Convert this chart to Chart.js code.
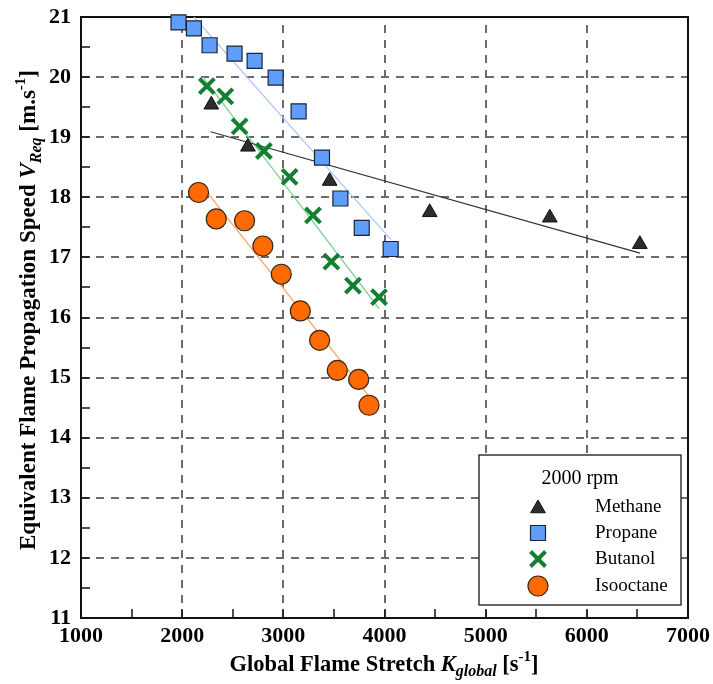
<!DOCTYPE html>
<html>
<head>
<meta charset="utf-8">
<script src="https://cdn.jsdelivr.net/npm/chart.js@4/dist/chart.umd.min.js"></script>
<style>
html,body{margin:0;padding:0;background:#fff;}
canvas{display:block;}
</style>
</head>
<body>
<canvas id="c" width="713" height="684"></canvas>
<script>
// ---- data ----
const xTicks = [1000, 2000, 3000, 4000, 5000, 6000, 7000];
const yTicks = [11, 12, 13, 14, 15, 16, 17, 18, 19, 20, 21];
const seriesNames = ['Methane', 'Propane', 'Butanol', 'Isooctane'];
const legendTitle = '2000 rpm';

const methaneX = [2288, 2650, 3458, 4447, 5634, 6524];
const methaneY = [19.54, 18.84, 18.27, 17.75, 17.66, 17.22];

const propaneX = [1964, 2116, 2271, 2518, 2716, 2924, 3151, 3382, 3564, 3775, 4061];
const propaneY = [20.91, 20.81, 20.53, 20.39, 20.27, 19.99, 19.43, 18.66, 17.98, 17.49, 17.14];

const butanolX = [2244, 2426, 2568, 2808, 3062, 3293, 3475, 3688, 3946];
const butanolY = [19.85, 19.68, 19.18, 18.77, 18.34, 17.70, 16.93, 16.53, 16.34];

const isooctaneX = [2162, 2337, 2617, 2798, 2980, 3168, 3359, 3534, 3745, 3847];
const isooctaneY = [18.08, 17.64, 17.61, 17.19, 16.72, 16.11, 15.62, 15.12, 14.97, 14.54];

// fitted trend lines (end points)
const methaneFitX = [2281, 6525];
const methaneFitY = [19.09, 17.07];
const propaneFitX = [2117, 4061];
const propaneFitY = [21.0, 17.30];
const butanolFitX = [2205, 3946];
const butanolFitY = [20.0, 16.15];
const isooctaneFitX = [2172, 3850];
const isooctaneFitY = [18.24, 14.68];

const pts = (xs, ys) => xs.map((v, i) => ({x: v, y: ys[i]}));

const SERIF = "'Liberation Serif', 'Times New Roman', serif";

const styles = [
  {pointStyle: 'triangle', radius: 8.5, bg: '#2d2d2d', border: '#111111', bw: 1, line: '#333333', lw: 1.2},
  {pointStyle: 'rect', radius: 10.6, bg: '#5f9dfa', border: '#1b2436', bw: 1.2, line: '#a9c6fb', lw: 1.2},
  {pointStyle: 'crossRot', radius: 10.6, bg: '#137f30', border: '#137f30', bw: 4, line: '#84d394', lw: 1.3},
  {pointStyle: 'circle', radius: 10, bg: '#ff6a00', border: '#3a2414', bw: 1.2, line: '#ffab78', lw: 1.5}
];

const scatterData = [pts(methaneX, methaneY), pts(propaneX, propaneY), pts(butanolX, butanolY), pts(isooctaneX, isooctaneY)];
const fitData = [pts(methaneFitX, methaneFitY), pts(propaneFitX, propaneFitY), pts(butanolFitX, butanolFitY), pts(isooctaneFitX, isooctaneFitY)];

const datasets = [];
seriesNames.forEach((name, i) => {
  const s = styles[i];
  datasets.push({
    label: name,
    data: scatterData[i],
    pointStyle: s.pointStyle,
    pointRadius: s.radius,
    pointHoverRadius: s.radius,
    backgroundColor: s.bg,
    borderColor: s.border,
    borderWidth: s.bw,
    showLine: false,
    clip: false,
    order: 1
  });
});
seriesNames.forEach((name, i) => {
  const s = styles[i];
  datasets.push({
    label: name + ' fit',
    data: fitData[i],
    showLine: true,
    pointRadius: 0,
    borderColor: s.line,
    borderWidth: s.lw,
    fill: false,
    order: 2
  });
});

// ---- helpers for drawing ----
function drawMarker(ctx, s, x, y) {
  ctx.save();
  ctx.fillStyle = s.bg;
  ctx.strokeStyle = s.border;
  ctx.lineWidth = s.bw;
  ctx.beginPath();
  const r = s.radius;
  if (s.pointStyle === 'triangle') {
    let rad = 0;
    ctx.moveTo(x + Math.sin(rad) * r, y - Math.cos(rad) * r);
    rad += 2 * Math.PI / 3;
    ctx.lineTo(x + Math.sin(rad) * r, y - Math.cos(rad) * r);
    rad += 2 * Math.PI / 3;
    ctx.lineTo(x + Math.sin(rad) * r, y - Math.cos(rad) * r);
    ctx.closePath();
    ctx.fill(); ctx.stroke();
  } else if (s.pointStyle === 'rect') {
    const h = Math.SQRT1_2 * r;
    ctx.rect(x - h, y - h, 2 * h, 2 * h);
    ctx.fill(); ctx.stroke();
  } else if (s.pointStyle === 'crossRot') {
    const h = Math.SQRT1_2 * r;
    ctx.moveTo(x - h, y - h); ctx.lineTo(x + h, y + h);
    ctx.moveTo(x + h, y - h); ctx.lineTo(x - h, y + h);
    ctx.stroke();
  } else {
    ctx.arc(x, y, r, 0, Math.PI * 2);
    ctx.fill(); ctx.stroke();
  }
  ctx.restore();
}

function drawRich(ctx, parts, cx, cy, rotate) {
  ctx.save();
  ctx.translate(cx, cy);
  if (rotate) ctx.rotate(-Math.PI / 2);
  let total = 0;
  parts.forEach(p => { ctx.font = p.font; p.w = ctx.measureText(p.t).width; total += p.w; });
  let x = -total / 2;
  ctx.fillStyle = '#000';
  ctx.textBaseline = 'alphabetic';
  ctx.textAlign = 'left';
  parts.forEach(p => { ctx.font = p.font; ctx.fillText(p.t, x, p.dy || 0); x += p.w; });
  ctx.restore();
}

const deco = {
  id: 'deco',
  beforeDatasetsDraw(chart) {
    const {ctx, chartArea: a, scales: {x, y}} = chart;
    ctx.save();
    // dashed grid
    ctx.strokeStyle = '#6b6b6b';
    ctx.lineWidth = 2;
    ctx.setLineDash([8, 7]);
    xTicks.slice(1, -1).forEach(v => {
      const px = Math.round(x.getPixelForValue(v));
      ctx.beginPath(); ctx.moveTo(px, a.bottom); ctx.lineTo(px, a.top); ctx.stroke();
    });
    yTicks.slice(1, -1).forEach(v => {
      const py = Math.round(y.getPixelForValue(v));
      ctx.beginPath(); ctx.moveTo(a.left, py); ctx.lineTo(a.right, py); ctx.stroke();
    });
    ctx.setLineDash([]);
    // inward ticks
    ctx.strokeStyle = '#111';
    ctx.lineWidth = 1.5;
    for (let i = 0; i < xTicks.length - 1; i++) {
      [xTicks[i], (xTicks[i] + xTicks[i + 1]) / 2].forEach(v => {
        const px = Math.round(x.getPixelForValue(v));
        ctx.beginPath(); ctx.moveTo(px, a.bottom); ctx.lineTo(px, a.bottom - 9); ctx.stroke();
      });
    }
    for (let i = 0; i < yTicks.length - 1; i++) {
      [yTicks[i], (yTicks[i] + yTicks[i + 1]) / 2].forEach(v => {
        const py = Math.round(y.getPixelForValue(v));
        ctx.beginPath(); ctx.moveTo(a.left, py); ctx.lineTo(a.left + 9, py); ctx.stroke();
      });
    }
    // frame
    ctx.strokeStyle = '#111';
    ctx.lineWidth = 2;
    ctx.strokeRect(a.left, a.top, a.right - a.left, a.bottom - a.top);
    ctx.restore();
  },
  afterDraw(chart) {
    const {ctx, chartArea: a} = chart;
    // axis titles
    const B = (s) => 'bold ' + s + 'px ' + SERIF;
    const BI = (s) => 'italic bold ' + s + 'px ' + SERIF;
    drawRich(ctx, [
      {t: 'Global Flame Stretch ', font: B(22.5)},
      {t: 'K', font: BI(22.5)},
      {t: 'global', font: BI(16), dy: 5},
      {t: ' [s', font: B(22.5)},
      {t: '-1', font: B(15), dy: -10},
      {t: ']', font: B(22.5)}
    ], 384, 671, false);
    drawRich(ctx, [
      {t: 'Equivalent Flame Propagation Speed ', font: B(23)},
      {t: 'V', font: BI(23)},
      {t: 'Req', font: BI(16), dy: 6},
      {t: ' [m.s', font: B(23)},
      {t: '-1', font: B(15), dy: -10},
      {t: ']', font: B(23)}
    ], 35, 310, true);

    // legend
    ctx.save();
    const L = 479, T = 455, R = 681, Bt = 605;
    ctx.fillStyle = '#fff';
    ctx.fillRect(L, T, R - L, Bt - T);
    ctx.strokeStyle = '#333';
    ctx.lineWidth = 1.5;
    ctx.strokeRect(L, T, R - L, Bt - T);
    ctx.fillStyle = '#000';
    ctx.font = '20px ' + SERIF;
    ctx.textAlign = 'center';
    ctx.textBaseline = 'middle';
    ctx.fillText(legendTitle, 580, 479);
    ctx.font = '19px ' + SERIF;
    ctx.textAlign = 'left';
    const rows = [507, 533, 559, 586];
    seriesNames.forEach((n, i) => {
      drawMarker(ctx, styles[i], 538, rows[i] + (i === 0 ? 1.5 : 0));
      ctx.fillStyle = '#000';
      ctx.fillText(n, 595, rows[i]);
    });
    ctx.restore();
  }
};

const noPad = s => { s.paddingTop = 0; s.paddingBottom = 0; s.paddingLeft = 0; s.paddingRight = 0; };

new Chart(document.getElementById('c'), {
  type: 'scatter',
  data: {datasets},
  options: {
    responsive: false,
    animation: false,
    devicePixelRatio: 1,
    layout: {padding: {left: 0, right: 25, top: 17, bottom: 0}},
    plugins: {legend: {display: false}, tooltip: {enabled: false}},
    scales: {
      x: {
        type: 'linear', min: xTicks[0], max: xTicks[xTicks.length - 1],
        afterFit: s => { s.height = 66; noPad(s); },
        afterBuildTicks: s => { s.ticks = xTicks.map(v => ({value: v})); },
        grid: {display: false, drawTicks: false},
        border: {display: false},
        ticks: {padding: 5, color: '#000', font: {family: SERIF, size: 22, weight: 'bold'}, maxRotation: 0, autoSkip: false, callback: v => String(v)}
      },
      y: {
        type: 'linear', min: yTicks[0], max: yTicks[yTicks.length - 1],
        afterFit: s => { s.width = 81; noPad(s); },
        afterBuildTicks: s => { s.ticks = yTicks.map(v => ({value: v})); },
        grid: {display: false, drawTicks: false},
        border: {display: false},
        ticks: {padding: 10, color: '#000', font: {family: SERIF, size: 22, weight: 'bold'}, autoSkip: false, callback: v => String(v)}
      }
    }
  },
  plugins: [deco]
});
</script>
</body>
</html>
